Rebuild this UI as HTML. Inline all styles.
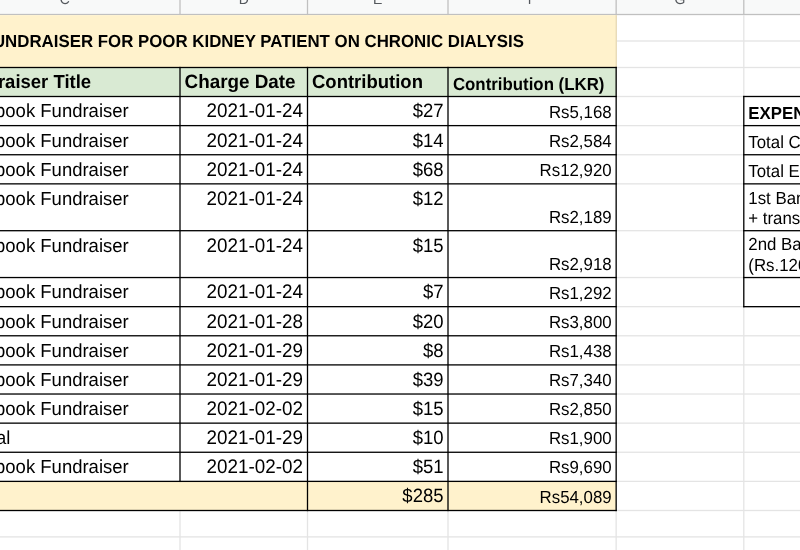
<!DOCTYPE html>
<html lang="en">
<head>
<meta charset="utf-8">
<title>Fundraiser for poor kidney patient on chronic dialysis</title>
<style>
html,body{margin:0;padding:0;background:#fff;}
body{width:800px;height:550px;overflow:hidden;position:relative;font-family:"Liberation Sans",Arial,Helvetica,sans-serif;}
#s{position:absolute;left:0;top:0;width:800px;height:550px;overflow:hidden;background:#fff;}
#s svg{position:absolute;left:0;top:0;display:block;}
#s .t{position:absolute;white-space:nowrap;color:#000;text-rendering:geometricPrecision;}
#s .k0{font-size:16.85px;line-height:19px;transform:scaleY(1.04);transform-origin:100% 15px;font-weight:700;text-align:right;}
#s .k1{font-size:18.5px;line-height:21px;transform:scaleY(1.02);transform-origin:0 17px;font-weight:700;}
#s .k2{font-size:18.85px;line-height:21px;transform:scaleY(1.02);transform-origin:0 17px;font-weight:700;}
#s .k3{font-size:16.85px;line-height:19px;transform:scaleY(1.04);transform-origin:0 15px;font-weight:700;}
#s .k4{font-size:18.5px;line-height:21px;transform:scaleY(1.02);transform-origin:0 17px;}
#s .k5{font-size:18.85px;line-height:21px;transform:scaleY(1.04);transform-origin:100% 17px;text-align:right;}
#s .k6{font-size:18.5px;line-height:21px;transform:scaleY(1.04);transform-origin:100% 17px;text-align:right;}
#s .k7{font-size:16.85px;line-height:19px;transform:scaleY(1.04);transform-origin:100% 15px;text-align:right;}
#s .k8{font-size:16.85px;line-height:19px;transform:scaleY(1.04);transform-origin:0 15px;}
#s .h{width:40px;text-align:center;font-size:14.0px;line-height:16px;color:#54585d;}
</style>
</head>
<body>
<div id="s">
<svg width="800" height="550" viewBox="0 0 800 550" aria-hidden="true">
<rect x="0" y="0" width="800" height="14.5" fill="#f8f9f9"/>
<rect x="179.35" y="0" width="1.3" height="14.5" fill="#c0c0c0"/>
<rect x="306.85" y="0" width="1.3" height="14.5" fill="#c0c0c0"/>
<rect x="447.35" y="0" width="1.3" height="14.5" fill="#c0c0c0"/>
<rect x="615.5" y="0" width="1.3" height="14.5" fill="#c0c0c0"/>
<rect x="743.15" y="0" width="1.3" height="14.5" fill="#c0c0c0"/>
<rect x="0" y="13.85" width="800" height="1.3" fill="#c0c0c0"/>
<rect x="0" y="40.35" width="800" height="1.3" fill="#e4e4e4"/>
<rect x="0" y="66.85" width="800" height="1.3" fill="#e4e4e4"/>
<rect x="0" y="95.85" width="800" height="1.3" fill="#e4e4e4"/>
<rect x="0" y="124.97" width="800" height="1.3" fill="#e4e4e4"/>
<rect x="0" y="154.09" width="800" height="1.3" fill="#e4e4e4"/>
<rect x="0" y="183.21" width="800" height="1.3" fill="#e4e4e4"/>
<rect x="0" y="230.05" width="800" height="1.3" fill="#e4e4e4"/>
<rect x="0" y="276.89" width="800" height="1.3" fill="#e4e4e4"/>
<rect x="0" y="306.01" width="800" height="1.3" fill="#e4e4e4"/>
<rect x="0" y="335.13" width="800" height="1.3" fill="#e4e4e4"/>
<rect x="0" y="364.25" width="800" height="1.3" fill="#e4e4e4"/>
<rect x="0" y="393.37" width="800" height="1.3" fill="#e4e4e4"/>
<rect x="0" y="422.49" width="800" height="1.3" fill="#e4e4e4"/>
<rect x="0" y="451.61" width="800" height="1.3" fill="#e4e4e4"/>
<rect x="0" y="480.73" width="800" height="1.3" fill="#e4e4e4"/>
<rect x="0" y="509.85" width="800" height="1.3" fill="#e4e4e4"/>
<rect x="0" y="536.25" width="800" height="1.3" fill="#e4e4e4"/>
<rect x="179.35" y="15.15" width="1.3" height="534.85" fill="#e4e4e4"/>
<rect x="306.85" y="15.15" width="1.3" height="534.85" fill="#e4e4e4"/>
<rect x="447.35" y="15.15" width="1.3" height="534.85" fill="#e4e4e4"/>
<rect x="615.5" y="15.15" width="1.3" height="534.85" fill="#e4e4e4"/>
<rect x="743.15" y="15.15" width="1.3" height="534.85" fill="#e4e4e4"/>
<rect x="0" y="15.15" width="616.8" height="52.35" fill="#fff2cc"/>
<rect x="615.6" y="15.15" width="1.3" height="52.35" fill="#e6d9b6"/>
<rect x="0" y="67.5" width="616.15" height="29" fill="#d9ead3"/>
<rect x="0" y="96.5" width="616.15" height="384.88" fill="#fff"/>
<rect x="0" y="481.38" width="616.15" height="29.12" fill="#fff2cc"/>
<rect x="743.8" y="96.5" width="56.2" height="210.16" fill="#fff"/>
<rect x="0" y="66.85" width="616.8" height="1.3" fill="#000"/>
<rect x="0" y="95.85" width="616.8" height="1.3" fill="#000"/>
<rect x="0" y="124.97" width="616.8" height="1.3" fill="#000"/>
<rect x="0" y="154.09" width="616.8" height="1.3" fill="#000"/>
<rect x="0" y="183.21" width="616.8" height="1.3" fill="#000"/>
<rect x="0" y="230.05" width="616.8" height="1.3" fill="#000"/>
<rect x="0" y="276.89" width="616.8" height="1.3" fill="#000"/>
<rect x="0" y="306.01" width="616.8" height="1.3" fill="#000"/>
<rect x="0" y="335.13" width="616.8" height="1.3" fill="#000"/>
<rect x="0" y="364.25" width="616.8" height="1.3" fill="#000"/>
<rect x="0" y="393.37" width="616.8" height="1.3" fill="#000"/>
<rect x="0" y="422.49" width="616.8" height="1.3" fill="#000"/>
<rect x="0" y="451.61" width="616.8" height="1.3" fill="#000"/>
<rect x="0" y="480.73" width="616.8" height="1.3" fill="#000"/>
<rect x="0" y="509.85" width="616.8" height="1.3" fill="#000"/>
<rect x="179.35" y="66.85" width="1.3" height="415.18" fill="#000"/>
<rect x="306.85" y="66.85" width="1.3" height="444.3" fill="#000"/>
<rect x="447.35" y="66.85" width="1.3" height="444.3" fill="#000"/>
<rect x="615.5" y="66.85" width="1.3" height="444.3" fill="#000"/>
<rect x="743.15" y="95.85" width="56.85" height="1.3" fill="#000"/>
<rect x="743.15" y="124.97" width="56.85" height="1.3" fill="#000"/>
<rect x="743.15" y="154.09" width="56.85" height="1.3" fill="#000"/>
<rect x="743.15" y="183.21" width="56.85" height="1.3" fill="#000"/>
<rect x="743.15" y="230.05" width="56.85" height="1.3" fill="#000"/>
<rect x="743.15" y="276.89" width="56.85" height="1.3" fill="#000"/>
<rect x="743.15" y="306.01" width="56.85" height="1.3" fill="#000"/>
<rect x="743.15" y="95.85" width="1.3" height="211.46" fill="#000"/>
</svg>
<div class="t h" style="left:44.7px;top:-9px">C</div>
<div class="t h" style="left:223.75px;top:-9px">D</div>
<div class="t h" style="left:357.75px;top:-9px">E</div>
<div class="t h" style="left:512.08px;top:-9px">F</div>
<div class="t h" style="left:659.97px;top:-9px">G</div>
<div class="t k0" style="top:32px;right:276.1px">FUNDRAISER FOR POOR KIDNEY PATIENT ON CHRONIC DIALYSIS</div>
<div class="t k1" style="top:71px;left:-47.3px">Fundraiser Title</div>
<div class="t k2" style="top:71px;left:184.6px">Charge Date</div>
<div class="t k1" style="top:71px;left:312px">Contribution</div>
<div class="t k3" style="top:75px;left:452.9px">Contribution (LKR)</div>
<div class="t k4" style="top:100px;left:-46.1px">Facebook Fundraiser</div>
<div class="t k5" style="top:100px;right:497px">2021-01-24</div>
<div class="t k6" style="top:100px;right:356.5px">$27</div>
<div class="t k7" style="top:103px;right:188.35px">Rs5,168</div>
<div class="t k4" style="top:130px;left:-46.1px">Facebook Fundraiser</div>
<div class="t k5" style="top:130px;right:497px">2021-01-24</div>
<div class="t k6" style="top:130px;right:356.5px">$14</div>
<div class="t k7" style="top:132px;right:188.35px">Rs2,584</div>
<div class="t k4" style="top:159px;left:-46.1px">Facebook Fundraiser</div>
<div class="t k5" style="top:159px;right:497px">2021-01-24</div>
<div class="t k6" style="top:159px;right:356.5px">$68</div>
<div class="t k7" style="top:161px;right:188.35px">Rs12,920</div>
<div class="t k4" style="top:188px;left:-46.1px">Facebook Fundraiser</div>
<div class="t k5" style="top:188px;right:497px">2021-01-24</div>
<div class="t k6" style="top:188px;right:356.5px">$12</div>
<div class="t k7" style="top:208px;right:188.35px">Rs2,189</div>
<div class="t k4" style="top:235px;left:-46.1px">Facebook Fundraiser</div>
<div class="t k5" style="top:235px;right:497px">2021-01-24</div>
<div class="t k6" style="top:235px;right:356.5px">$15</div>
<div class="t k7" style="top:255px;right:188.35px">Rs2,918</div>
<div class="t k4" style="top:281px;left:-46.1px">Facebook Fundraiser</div>
<div class="t k5" style="top:281px;right:497px">2021-01-24</div>
<div class="t k6" style="top:281px;right:356.5px">$7</div>
<div class="t k7" style="top:284px;right:188.35px">Rs1,292</div>
<div class="t k4" style="top:311px;left:-46.1px">Facebook Fundraiser</div>
<div class="t k5" style="top:311px;right:497px">2021-01-28</div>
<div class="t k6" style="top:311px;right:356.5px">$20</div>
<div class="t k7" style="top:313px;right:188.35px">Rs3,800</div>
<div class="t k4" style="top:340px;left:-46.1px">Facebook Fundraiser</div>
<div class="t k5" style="top:340px;right:497px">2021-01-29</div>
<div class="t k6" style="top:340px;right:356.5px">$8</div>
<div class="t k7" style="top:342px;right:188.35px">Rs1,438</div>
<div class="t k4" style="top:369px;left:-46.1px">Facebook Fundraiser</div>
<div class="t k5" style="top:369px;right:497px">2021-01-29</div>
<div class="t k6" style="top:369px;right:356.5px">$39</div>
<div class="t k7" style="top:371px;right:188.35px">Rs7,340</div>
<div class="t k4" style="top:398px;left:-46.1px">Facebook Fundraiser</div>
<div class="t k5" style="top:398px;right:497px">2021-02-02</div>
<div class="t k6" style="top:398px;right:356.5px">$15</div>
<div class="t k7" style="top:400px;right:188.35px">Rs2,850</div>
<div class="t k4" style="top:427px;left:-46.1px">Paypal</div>
<div class="t k5" style="top:427px;right:497px">2021-01-29</div>
<div class="t k6" style="top:427px;right:356.5px">$10</div>
<div class="t k7" style="top:429px;right:188.35px">Rs1,900</div>
<div class="t k4" style="top:456px;left:-46.1px">Facebook Fundraiser</div>
<div class="t k5" style="top:456px;right:497px">2021-02-02</div>
<div class="t k6" style="top:456px;right:356.5px">$51</div>
<div class="t k7" style="top:458px;right:188.35px">Rs9,690</div>
<div class="t k6" style="top:485px;right:356.5px">$285</div>
<div class="t k7" style="top:488px;right:188.35px">Rs54,089</div>
<div class="t k3" style="top:104px;left:748.3px">EXPENSES</div>
<div class="t k8" style="top:133px;left:748.3px">Total Contributions</div>
<div class="t k8" style="top:162px;left:748.3px">Total Expenses</div>
<div class="t k8" style="top:189px;left:748.3px">1st Bank transfer</div>
<div class="t k8" style="top:209px;left:748.3px">+ transfer fee</div>
<div class="t k8" style="top:235px;left:748.3px">2nd Bank transfer</div>
<div class="t k8" style="top:256px;left:748.3px">(Rs.120,000)</div>
</div>
</body>
</html>
